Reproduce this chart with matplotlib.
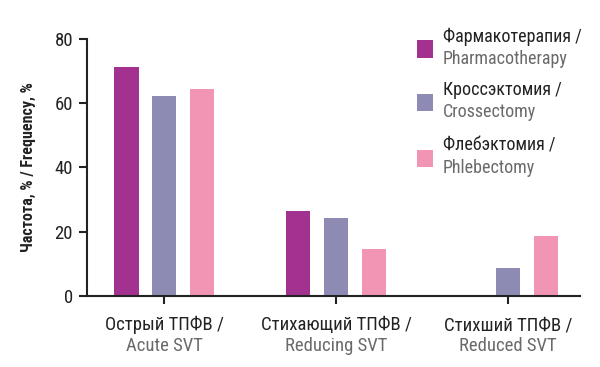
import matplotlib
matplotlib.use("Agg")
import matplotlib.pyplot as plt
import numpy as np
from matplotlib.patches import Rectangle
from matplotlib.transforms import blended_transform_factory

plt.rcParams['font.family'] = ['Roboto Condensed', 'DejaVu Sans']

categories_ru = ["Острый ТПФВ /", "Стихающий ТПФВ /", "Стихший ТПФВ /"]
categories_en = ["Acute SVT", "Reducing SVT", "Reduced SVT"]
series_ru = ["Фармакотерапия /", "Кроссэктомия /", "Флебэктомия /"]
series_en = ["Pharmacotherapy", "Crossectomy", "Phlebectomy"]
pharmaco = [71.4, 26.6, 0]
crossect = [62.1, 24.4, 8.7]
phlebect = [64.4, 14.6, 18.7]
yticks = [0, 20, 40, 60, 80]

colors = ["#A3318F", "#8D8BB3", "#F295B5"]
series = [pharmaco, crossect, phlebect]

fig = plt.figure(figsize=(6, 3.67), dpi=100)
ax = fig.add_axes([0.145, 0.1935, 0.822, 0.7005])

x = np.arange(len(categories_ru))
w = 0.14
offs = [-0.22, 0, 0.22]
for vals, c, o in zip(series, colors, offs):
    ax.bar(x + o, vals, width=w, color=c, linewidth=0)

ax.set_xlim(-0.45, 2.42)
ax.set_ylim(0, 80)
ax.set_yticks(yticks)
ax.set_yticklabels([str(v) for v in yticks], fontsize=13.5, color="#222222")
ax.set_xticks(x)
ax.set_xticklabels([])
for s in ["top", "right"]:
    ax.spines[s].set_visible(False)
for s in ["left", "bottom"]:
    ax.spines[s].set_linewidth(1.5)
    ax.spines[s].set_color("#222222")
ax.tick_params(axis="both", direction="out", length=6, width=1.5, color="#222222")
ax.tick_params(axis="y", pad=4)

ax.set_ylabel("Частота, % / Frequency, %", fontsize=11.5, fontweight="bold",
              color="#222222", labelpad=13)

tr = blended_transform_factory(ax.transData, fig.transFigure)
for i in range(len(categories_ru)):
    ax.text(x[i], 1 - 325 / 367, categories_ru[i], transform=tr, ha="center",
            va="center", fontsize=13.5, color="#222222")
    ax.text(x[i], 1 - 346 / 367, categories_en[i], transform=tr, ha="center",
            va="center", fontsize=13.5, color="#6A6A6A")

# legend
leg_y = [49, 102, 158]
for yc, c, ru, en in zip(leg_y, colors, series_ru, series_en):
    fig.patches.append(Rectangle((417 / 600, 1 - (yc + 8.5) / 367), 16 / 600, 17 / 367,
                                 transform=fig.transFigure, color=c, linewidth=0))
    fig.text(443 / 600, 1 - (yc - 12) / 367, ru, ha="left", va="center",
             fontsize=13, color="#222222")
    fig.text(443 / 600, 1 - (yc + 10) / 367, en, ha="left", va="center",
             fontsize=13, color="#6A6A6A")

fig.savefig("out.png", dpi=100)
